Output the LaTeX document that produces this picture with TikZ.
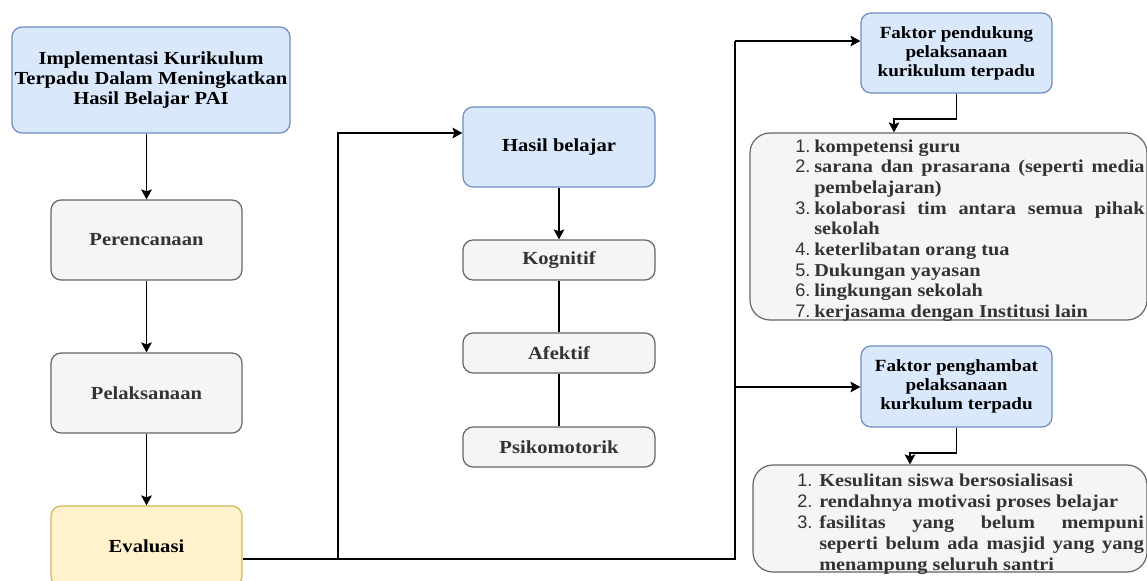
\documentclass[tikz,border=0pt]{standalone}
\usepackage{fontspec}
\setmainfont{Liberation Serif}[FakeStretch=1.12]
\newfontfamily\numfont{Liberation Sans}
\usetikzlibrary{arrows.meta,positioning}
\definecolor{biruisi}{HTML}{DAE8FC}
\definecolor{birugaris}{HTML}{6C8EBF}
\definecolor{abuisi}{HTML}{F5F5F5}
\definecolor{abugaris}{HTML}{666666}
\definecolor{abuteks}{HTML}{333333}
\definecolor{kuningisi}{HTML}{FFF2CC}
\definecolor{kuninggaris}{HTML}{D6B656}
\tikzset{
	kotak/.style={rounded corners=7.5pt,line width=0.9pt,align=center,inner sep=0pt,font=\fontsize{13.8}{15}\selectfont\bfseries},
	biru/.style={kotak,fill=biruisi,draw=birugaris},
	abu/.style={kotak,fill=abuisi,draw=abugaris,text=abuteks},
	kuning/.style={kotak,fill=kuningisi,draw=kuninggaris},
	daftar/.style={rounded corners=15pt,fill=abuisi,draw=abugaris,line width=0.9pt},
	isidaftar/.style={align=justify,inner sep=0pt,text=abuteks,font=\fontsize{13.6}{15.5}\selectfont\bfseries},
	panah/.style={-{Stealth[length=7.5pt,width=8pt,inset=1.5pt]},line width=0.9pt},
	garis/.style={line width=0.9pt}
}
\newcommand{\butir}[3][14.25pt]{\par\noindent\hangindent=#1\hangafter=1\makebox[#1][l]{\numfont\mdseries #2.}#3}
\begin{document}
\begin{tikzpicture}[x=0.75pt,y=-0.75pt]
	\clip (0,0) rectangle (1147,581);
	% kolom kiri
	\node[biru,minimum width=208.5pt,minimum height=79.5pt] (judul) at (151,80) {Implementasi Kurikulum\\Terpadu Dalam Meningkatkan\\Hasil Belajar PAI};
	\node[abu,minimum width=143.25pt,minimum height=60pt] (rencana) at (146.5,240) {Perencanaan};
	\node[abu,minimum width=143.25pt,minimum height=60pt] (laksana) at (146.5,393) {Pelaksanaan};
	\node[kuning,minimum width=143.25pt,minimum height=60pt] (evaluasi) at (146.5,546) {Evaluasi};
	% kolom tengah
	\node[biru,minimum width=144pt,minimum height=60pt] (hasil) at (559,147) {Hasil belajar};
	\node[abu,minimum width=144pt,minimum height=30pt] (kognitif) at (559,260) {Kognitif};
	\node[abu,minimum width=144pt,minimum height=30pt] (afektif) at (559,353) {Afektif};
	\node[abu,minimum width=144pt,minimum height=30pt] (psiko) at (559,447) {Psikomotorik};
	% kolom kanan
	\node[biru,minimum width=143.25pt,minimum height=60pt,font=\fontsize{12.8}{14.25}\selectfont\bfseries] (dukung) at (956.5,53) {Faktor pendukung\\pelaksanaan\\kurikulum terpadu};
	\node[biru,minimum width=143.25pt,minimum height=60.75pt,font=\fontsize{12.8}{14.25}\selectfont\bfseries] (hambat) at (956.5,386.5) {Faktor penghambat\\pelaksanaan\\kurkulum terpadu};
	\node[daftar,minimum width=297.75pt,minimum height=140.25pt] (ldukung) at (948.5,226.5) {};
	\node[isidaftar,text width=262pt,anchor=west] (tdukung) at (795,226.5) {%
		\butir{1}{kompetensi guru}
		\butir{2}{sarana dan prasarana (seperti media\linebreak pembelajaran)}
		\butir{3}{kolaborasi tim antara semua pihak\linebreak sekolah}
		\butir{4}{keterlibatan orang tua}
		\butir{5}{Dukungan yayasan}
		\butir{6}{lingkungan sekolah}
		\butir{7}{kerjasama dengan Institusi lain}\par};
	\node[daftar,minimum width=295.5pt,minimum height=80.25pt] (lhambat) at (950,518.5) {};
	\node[isidaftar,text width=260pt,anchor=west,font=\fontsize{13.6}{15.75}\selectfont\bfseries] (thambat) at (797,520) {%
		\butir[16.5pt]{1}{Kesulitan siswa bersosialisasi}
		\butir[16.5pt]{2}{rendahnya motivasi proses belajar}
		\butir[16.5pt]{3}{fasilitas yang belum mempuni\linebreak seperti belum ada masjid yang yang\linebreak menampung seluruh santri}\par};
	% titik belok
	\coordinate (k1) at (338,559);
	\coordinate (k2) at (338,133);
	\coordinate (k3) at (735,559);
	\coordinate (k4) at (735,41);
	\coordinate (k5) at (735,387);
	\coordinate (b1) at (894,119);
	\coordinate (b2) at (910,453);
	% panah
	\draw[panah] (rencana.north|-judul.south)--(rencana.north);
	\draw[panah] (rencana)--(laksana);
	\draw[panah] (laksana)--(evaluasi);
	\draw[panah] (evaluasi.east|-k1)--(k1)--(k2)--(hasil.west|-k2);
	\draw[garis] (k1)--(k3)--(k4);
	\draw[panah] (k4)--(dukung.west|-k4);
	\draw[panah] (k5)--(hambat.west|-k5);
	\draw[panah] (hasil)--(kognitif);
	\draw[garis] (kognitif)--(afektif) (afektif)--(psiko);
	\draw[panah] (dukung.south)|-(b1)--(b1|-ldukung.north);
	\draw[panah] (hambat.south)|-(b2)--(b2|-lhambat.north);
\end{tikzpicture}
\end{document}
